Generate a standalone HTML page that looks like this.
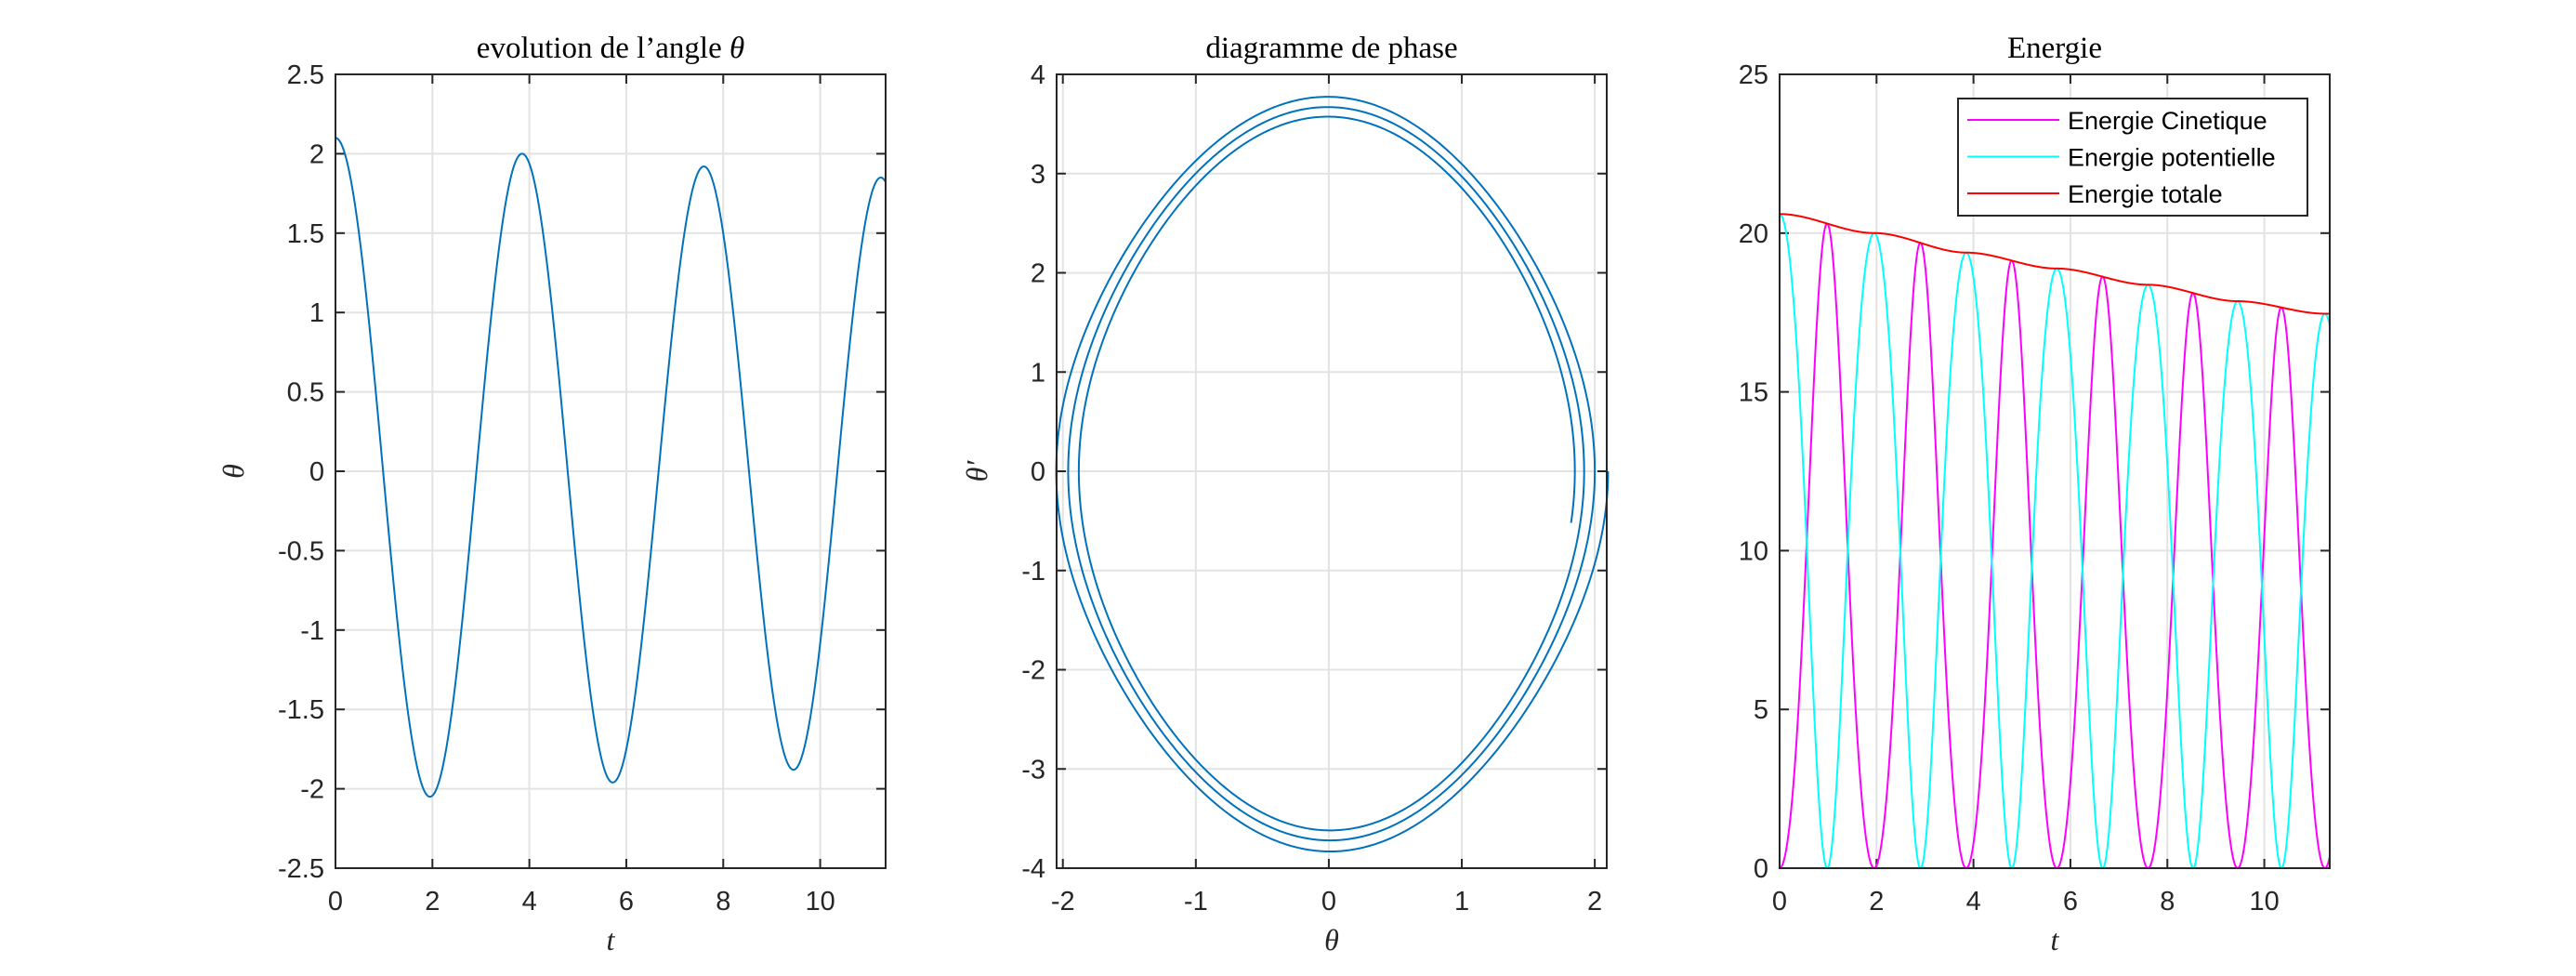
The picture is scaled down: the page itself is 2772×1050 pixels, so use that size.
<!DOCTYPE html>
<html><head><meta charset="utf-8">
<style>
html,body{margin:0;padding:0;background:#fff;}
svg{display:block;}
.tk{font-family:"Liberation Sans",sans-serif;font-size:29px;fill:#262626;}
.ti{font-family:"Liberation Serif",serif;font-size:33px;fill:#000;}
.lb{font-family:"Liberation Serif",serif;font-style:italic;font-size:32px;fill:#262626;}
.lg{font-family:"Liberation Sans",sans-serif;font-size:27px;fill:#000;}
</style></head>
<body>
<svg id="fig" width="2772" height="1050" viewBox="0 0 2772 1050" xmlns="http://www.w3.org/2000/svg">
<rect width="2772" height="1050" fill="#fff"/>
</svg>
<script>
// ---- data ----
const extremaTimes = [0, 1.95, 3.85, 5.72, 7.6, 9.45, 11.25];
const extremaAngles = [2.1, -2.05, 2.0, -1.96, 1.92, -1.88, 1.85];
const tEnd = 11.35;
const mgL = 13.69;      // energy scale (J per unit 1-cos)
const kRatio = 4.95;    // g/L
const thetaTicks = [-2.5,-2,-1.5,-1,-0.5,0,0.5,1,1.5,2,2.5];
const thetaTickLabels = ["-2.5","-2","-1.5","-1","-0.5","0","0.5","1","1.5","2","2.5"];
const timeTicks = [0,2,4,6,8,10];
const phaseXTicks = [-2,-1,0,1,2];
const phaseYTicks = [-4,-3,-2,-1,0,1,2,3,4];
const energyTicks = [0,5,10,15,20,25];
const legendLabels = ["Energie Cinetique","Energie potentielle","Energie totale"];

const NS="http://www.w3.org/2000/svg";
const svg=document.getElementById('fig');
function mk(tag,attrs,parent){const e=document.createElementNS(NS,tag);for(const k in attrs)e.setAttribute(k,attrs[k]);(parent||svg).appendChild(e);return e;}

const N=2400;
const ts=[],th=[],thd=[],Ec=[],Ep=[],Et=[];
for(let i=0;i<=N;i++){
  const t=tEnd*i/N;
  let j=0;while(j<extremaTimes.length-2&&t>extremaTimes[j+1])j++;
  const t0=extremaTimes[j],t1=extremaTimes[j+1],a0=extremaAngles[j],a1=extremaAngles[j+1];
  const u=Math.min(Math.max((t-t0)/(t1-t0),0),1.3);
  const c=(1-Math.cos(Math.PI*u))/2;
  const theta=a0+(a1-a0)*c;
  const s=Math.min(u,1),sm=s*s*(3-2*s);
  const A=Math.abs(a0)+(Math.abs(a1)-Math.abs(a0))*sm;
  const Aeff=Math.max(A,Math.abs(theta));
  const dir=(u<=1)?Math.sign(a1-a0):-Math.sign(a1-a0);
  const v=dir*Math.sqrt(Math.max(0,2*kRatio*(Math.cos(theta)-Math.cos(Aeff))));
  const E=mgL*(1-Math.cos(Aeff));
  const ep=mgL*(1-Math.cos(theta));
  ts.push(t);th.push(theta);thd.push(v);Ep.push(ep);Et.push(E);Ec.push(E-ep);
}

const TOP=80,BOT=934;
function axes(name,x0,x1,xmin,xmax,ymin,ymax,xt,yt,xtl,ytl){
  const g=mk('g',{});  
  const X=v=>x0+(v-xmin)/(xmax-xmin)*(x1-x0);
  const Y=v=>BOT-(v-ymin)/(ymax-ymin)*(BOT-TOP);
  xt.forEach((v,i)=>{const x=X(v);
    const l=mk('line',{x1:x,x2:x,y1:TOP,y2:BOT,stroke:'#e3e3e3','stroke-width':2},g);  
    mk('line',{x1:x,x2:x,y1:BOT,y2:BOT-10,stroke:'#262626','stroke-width':2},g);
    mk('line',{x1:x,x2:x,y1:TOP,y2:TOP+10,stroke:'#262626','stroke-width':2},g);
    const tx=mk('text',{x:x,y:BOT+45,'text-anchor':'middle',class:'tk'},g); tx.textContent=xtl?xtl[i]:String(v);
     
  });
  yt.forEach((v,i)=>{const y=Y(v);
    const l=mk('line',{x1:x0,x2:x1,y1:y,y2:y,stroke:'#e3e3e3','stroke-width':2},g);  
    mk('line',{x1:x0,x2:x0+10,y1:y,y2:y,stroke:'#262626','stroke-width':2},g);
    mk('line',{x1:x1,x2:x1-10,y1:y,y2:y,stroke:'#262626','stroke-width':2},g);
    const tx=mk('text',{x:x0-12,y:y+10,'text-anchor':'end',class:'tk'},g); tx.textContent=ytl?ytl[i]:String(v);
     
  });
  return {g,X,Y,x0,x1};
}
function frame(a){const r=mk('rect',{x:a.x0,y:TOP,width:a.x1-a.x0,height:BOT-TOP,fill:'none',stroke:'#262626','stroke-width':2},a.g);
   }
function line(a,xs,ys,color,name){
  let d='';for(let i=0;i<xs.length;i++)d+=(i?'L':'M')+a.X(xs[i]).toFixed(2)+' '+a.Y(ys[i]).toFixed(2);
  const p=mk('path',{d:d,fill:'none',stroke:color,'stroke-width':2,'stroke-linejoin':'round'},a.g);
   
}
function text(x,y,str,cls,name,anchor,rot){
  const t=mk('text',{x:x,y:y,class:cls,'text-anchor':anchor||'middle'});
  if(rot)t.setAttribute('transform','rotate(-90 '+x+' '+y+')');
  t.textContent=str;   return t;
}

const a1=axes('theta-axes',361,953,0,tEnd,-2.5,2.5,timeTicks,thetaTicks,null,thetaTickLabels);
line(a1,ts,th,'#0072bd','theta-line'); frame(a1);
const t1=text(657,62,'evolution de l\u2019angle ','ti','theta-title');
const s1=mk('tspan',{'font-style':'italic'},t1); s1.textContent='\u03b8';
text(657,1022,'t','lb','theta-x-axis-title');
text(262,507,'\u03b8','lb','theta-y-axis-title','middle',true);

const a2=axes('phase-axes',1137,1729,-2.047,2.09,-4,4,phaseXTicks,phaseYTicks);
line(a2,th,thd,'#0072bd','phase-line'); frame(a2);
text(1433,62,'diagramme de phase','ti','phase-title');
text(1433,1022,'\u03b8','lb','phase-x-axis-title');
text(1062,507,'\u03b8\u2032','lb','phase-y-axis-title','middle',true);

const a3=axes('energy-axes',1915,2507,0,tEnd,0,25,timeTicks,energyTicks);
line(a3,ts,Ec,'#ff00ff','kinetic-energy-line');
line(a3,ts,Ep,'#00ffff','potential-energy-line');
line(a3,ts,Et,'#ff0000','total-energy-line'); frame(a3);
text(2211,62,'Energie','ti','energy-title');
text(2211,1022,'t','lb','energy-x-axis-title');

const lg=mk('g',{});  
mk('rect',{x:2107,y:106,width:376,height:126,fill:'#fff',stroke:'#262626','stroke-width':2},lg);
const lcol=['#ff00ff','#00ffff','#ff0000'];
legendLabels.forEach((s,i)=>{const y=129+i*39.5;
  const e=mk('g',{},lg);  
  mk('line',{x1:2117,x2:2216,y1:y,y2:y,stroke:lcol[i],'stroke-width':2},e);
  const t=mk('text',{x:2225,y:y+10,class:'lg'},e); t.textContent=s;
});
</script>
</body></html>
